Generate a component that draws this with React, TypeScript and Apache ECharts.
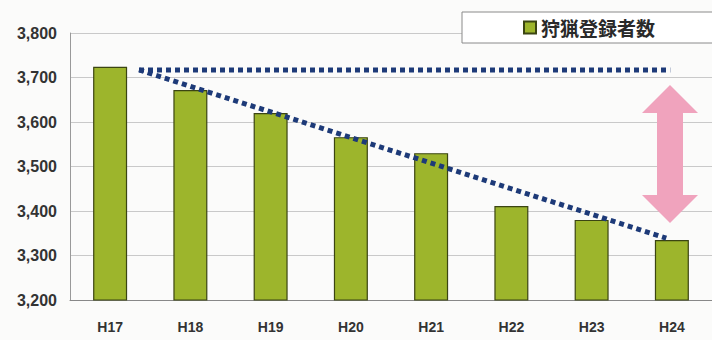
import React, { useEffect, useRef } from "react";
import * as echarts from "echarts";

const categories = ["H17", "H18", "H19", "H20", "H21", "H22", "H23", "H24"];
const registrants = [3724, 3672, 3620, 3566, 3530, 3411, 3380, 3335];
const yTicks = [3200, 3800, 100];
const flatTrend = [[0.36, 3717], [6.98, 3717]];
const fallingTrend = [[0.36, 3717], [6.93, 3339]];
const seriesName = "狩猟登録者数";

export default function App() {
  const ref = useRef<HTMLDivElement>(null);
  useEffect(() => {
    document.body.style.margin = "0";
    const chart = echarts.init(ref.current!, null, { renderer: "svg" });
    const dotted = { color: "#1d3a78", width: 5, type: [5, 4] as any, cap: "butt" as any };
    chart.setOption({
      animation: false,
      backgroundColor: "#fbfbfa",
      grid: { left: 70, right: -5, top: 33, bottom: 40, containLabel: false },
      legend: {
        data: [{ name: seriesName, icon: "rect" }],
        left: 462,
        top: 12,
        itemWidth: 12,
        itemHeight: 12,
        itemGap: 7,
        padding: [6, 90, 6, 61],
        backgroundColor: "#ffffff",
        borderColor: "#8a8a8a",
        borderWidth: 1,
        textStyle: { fontFamily: "Noto Sans CJK JP", fontSize: 19, fontWeight: "bold", color: "#2a2a2a" },
      },
      xAxis: [
        {
          type: "category",
          data: categories,
          axisLine: { show: true, lineStyle: { color: "#888" } },
          axisTick: { show: false },
          axisLabel: { fontFamily: "Liberation Sans", fontSize: 14, fontWeight: "bold", color: "#333", margin: 20 },
        },
        { type: "value", min: -0.5, max: 7.5, show: false },
      ],
      yAxis: {
        type: "value",
        min: yTicks[0],
        max: yTicks[1],
        interval: yTicks[2],
        axisLine: { show: true, onZero: false, lineStyle: { color: "#999" } },
        axisTick: { show: false },
        splitLine: { lineStyle: { color: "#c9c9c9", width: 1 } },
        axisLabel: {
          fontFamily: "Liberation Sans",
          fontSize: 16,
          fontWeight: "bold",
          color: "#333",
          margin: 13,
          formatter: (v: number) => v.toLocaleString("en-US"),
        },
      },
      series: [
        {
          name: seriesName,
          type: "bar",
          data: registrants,
          barWidth: 34,
          itemStyle: { color: "#9db52c", borderColor: "#3b4512", borderWidth: 1.2 },
        },
        {
          type: "line",
          xAxisIndex: 1,
          data: flatTrend,
          symbol: "none",
          lineStyle: dotted,
          silent: true,
        },
        {
          type: "line",
          xAxisIndex: 1,
          data: fallingTrend,
          symbol: "none",
          lineStyle: dotted,
          silent: true,
        },
      ],
      graphic: [
        {
          type: "polygon",
          shape: {
            points: [
              [670, 85], [698, 113], [683, 113], [683, 195], [698, 195],
              [670, 223], [642, 195], [657, 195], [657, 113], [642, 113],
            ],
          },
          style: { fill: "#f0a3bd" },
          z: 10,
        },
      ],
    });
    return () => chart.dispose();
  }, []);
  return <div ref={ref} style={{ position: "fixed", left: 0, top: 0, width: 712, height: 340 }} />;
}
